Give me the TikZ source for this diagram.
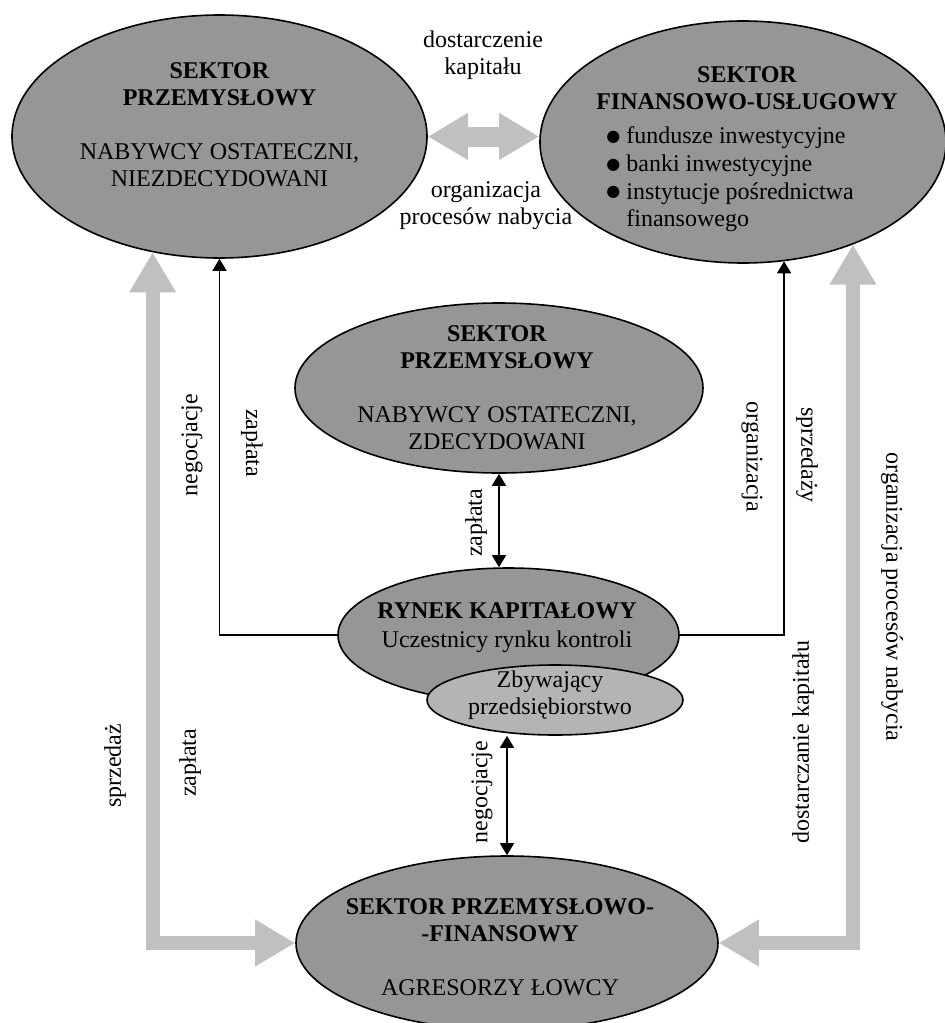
\documentclass[tikz,border=0pt]{standalone}
\usepackage{fontspec}
\setmainfont{Liberation Serif}
\newfontfamily\znaki{DejaVu Sans}
\usetikzlibrary{arrows.meta}
\usetikzlibrary{shapes.geometric}
\definecolor{tlo}{RGB}{150,150,150}
\definecolor{jasne}{RGB}{180,180,180}
\definecolor{szare}{RGB}{192,192,192}
\newcommand{\kropka}{\raisebox{1.2pt}{\znaki\fontsize{8}{8}\selectfont ●}}
\tikzset{sektor/.style = {ellipse, draw, fill=tlo, line width=0.8pt, inner sep=0pt},
         opis/.style = {inner sep=0pt, align=center, font=\fontsize{12}{13.5}\selectfont},
         cienka/.style = {line width=0.8pt, -{Triangle[width=7pt,length=6pt]}},
         obie/.style = {line width=0.8pt, {Triangle[width=7pt,length=6pt]}-{Triangle[width=7pt,length=6pt]}},
         gruba/.style = {draw=szare, line width=7pt, line join=miter,
                         {Triangle[width=22pt,length=20pt]}-{Triangle[width=22pt,length=20pt]}}}

\begin{document}
\begin{tikzpicture}[x=0.5pt, y=-0.5pt]
      \useasboundingbox (0, 0) rectangle (944, 1023);

      \node [sektor, minimum width=207.5pt, minimum height=121.5pt] (lewy) at (219.5, 136.5) {};
      \node [sektor, minimum width=203pt, minimum height=121pt] (prawy) at (743, 142) {};
      \node [sektor, minimum width=204pt, minimum height=85pt] (srodek) at (499, 388) {};
      \node [sektor, minimum width=170.5pt, minimum height=67pt] (rynek) at (508.5, 635) {};
      \node [sektor, fill=jasne, minimum width=128pt, minimum height=35pt] (zbyw) at (555, 700) {};
      \node [sektor, minimum width=211pt, minimum height=87pt] (dolny) at (507, 943) {};

      \node [opis] (lewy-tekst) at (219.5, 125) {\textbf{SEKTOR}\\\textbf{PRZEMYSŁOWY}\\[13.5pt]NABYWCY OSTATECZNI,\\NIEZDECYDOWANI};
      \node [opis, font=\fontsize{12}{13.5}\selectfont\bfseries] (prawy-tytul) at (747, 88.5) {SEKTOR\\FINANSOWO-USŁUGOWY};
      \node [opis, anchor=west, align=left, font=\fontsize{12}{13.8}\selectfont] (prawy-lista) at (606, 179.5)
            {\kropka\ fundusze inwestycyjne\\\kropka\ banki inwestycyjne\\\kropka\ instytucje pośrednictwa\\\phantom{\kropka\ }finansowego};
      \node [opis] (srodek-tekst) at (497, 388) {\textbf{SEKTOR}\\\textbf{PRZEMYSŁOWY}\\[13.5pt]NABYWCY OSTATECZNI,\\ZDECYDOWANI};
      \node [opis] (rynek-tekst) at (507, 627.5) {\textbf{RYNEK KAPITAŁOWY}\\[1pt]Uczestnicy rynku kontroli};
      \node [opis] (zbyw-tekst) at (550, 695) {Zbywający\\przedsiębiorstwo};
      \node [opis] (dolny-tekst) at (500, 947) {\textbf{SEKTOR PRZEMYSŁOWO-}\\\textbf{-FINANSOWY}\\[13.5pt]AGRESORZY ŁOWCY};

      \node [opis] (dostarczenie) at (483, 55) {dostarczenie\\kapitału};
      \node [opis] (organizacja) at (486, 205.5) {organizacja\\procesów nabycia};
      \node [opis, rotate=90] (negocjacje-lewa) at (192, 445) {negocjacje};
      \node [opis, rotate=-90] (zaplata-lewa) at (252, 443) {zapłata};
      \node [opis, rotate=90] (zaplata-srodek) at (476, 523) {zapłata};
      \node [opis, rotate=-90] (organizacja-prawa) at (752, 457) {organizacja};
      \node [opis, rotate=-90] (sprzedazy) at (807, 455) {sprzedaży};
      \node [opis, rotate=-90] (organizacja-procesow) at (892, 597) {organizacja procesów nabycia};
      \node [opis, rotate=90] (dostarczanie) at (803, 742) {dostarczanie kapitału};
      \node [opis, rotate=90] (negocjacje-dol) at (482, 792) {negocjacje};
      \node [opis, rotate=90] (sprzedaz) at (115, 766) {sprzedaż};
      \node [opis, rotate=90] (zaplata-dol) at (190, 763) {zapłata};

      \draw [cienka] (rynek.west) -| (lewy.south);
      \draw [cienka] (rynek.east) -| (prawy.-71);
      \draw [obie] (srodek.south) -- (srodek.south |- rynek.north);
      \draw [obie] (dolny.north |- zbyw.south) -- (dolny.north);

      \draw [gruba, line width=10pt] (lewy.east) -- (lewy.east -| prawy.west);
      \draw [gruba] (lewy.-120) |- (dolny.west);
      \draw [gruba] (prawy.-43) |- (dolny.east);
\end{tikzpicture}
\end{document}
